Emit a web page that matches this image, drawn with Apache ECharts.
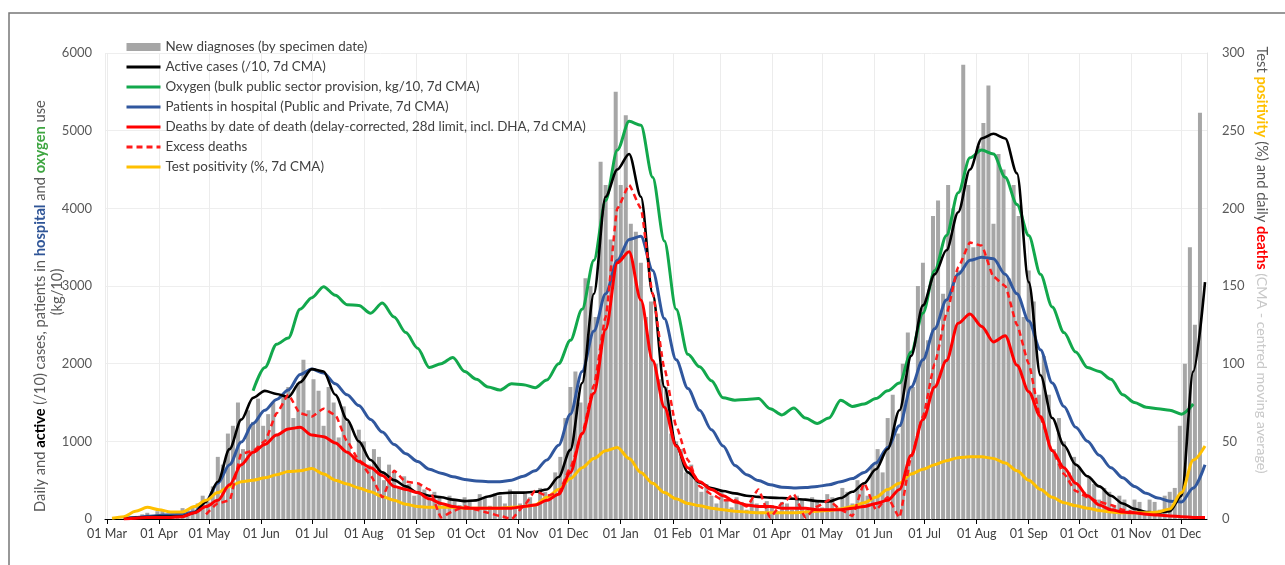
<!DOCTYPE html>
<html>
<head>
<meta charset="utf-8">
<script src="https://cdn.jsdelivr.net/npm/echarts@6/dist/echarts.min.js"></script>
<style>
  html, body { margin: 0; padding: 0; background: #fff; }
  #chart { width: 1285px; height: 565px; }
</style>
</head>
<body>
<div id="chart"></div>
<script>
// daily new diagnoses, read every 3rd day from 01 Mar 2020
const barStart = '2020-03-01';
const barStep = 3;
const newDiagnoses = [
  0, 0, 2, 5, 10, 20, 40, 60, 80, 50,
  100, 120, 60, 100, 90, 140, 120, 160, 200, 300,
  220, 420, 800, 700, 1100, 1200, 1500, 900, 1400, 1250,
  1550, 1200, 1350, 1500, 1100, 1600, 1700, 1300, 1750, 2050,
  1400, 1800, 1650, 1200, 1700, 1500, 1050, 1450, 1250, 800,
  1150, 1000, 700, 900, 800, 500, 700, 600, 400, 550,
  450, 300, 450, 380, 250, 350, 300, 200, 300, 250,
  180, 280, 250, 150, 320, 280, 170, 330, 300, 200,
  380, 320, 200, 350, 280, 180, 400, 350, 250, 600,
  800, 1300, 1700, 1900, 1500, 3100, 3000, 2600, 4600, 4300,
  3600, 5500, 4300, 5200, 3800, 3700, 3300, 2600, 2800, 2000,
  1800, 1700, 1100, 1000, 900, 600, 700, 500, 350, 450,
  300, 200, 350, 250, 150, 280, 220, 120, 250, 200,
  100, 230, 180, 100, 220, 200, 120, 300, 250, 120,
  280, 220, 150, 320, 280, 150, 400, 350, 200, 500,
  450, 300, 700, 900, 600, 1300, 1600, 1100, 2000, 2400,
  1700, 3000, 3300, 2300, 3900, 4100, 2900, 4300, 4000, 3200,
  5850, 4300, 3500, 4800, 5100, 5580, 3800, 4700, 4500, 3100,
  4300, 3900, 2600, 3200, 2800, 1600, 2100, 1600, 900, 1300,
  1000, 600, 800, 650, 350, 550, 450, 250, 400, 350,
  180, 300, 250, 120, 250, 220, 100, 250, 220, 120,
  300, 350, 400, 1200, 2000, 3500, 2500, 5230
];

// 7d CMA lines, read weekly from 04 Mar 2020 (null = no data yet / any more)
const lineStart = '2020-03-04';
const lineStep = 7;
const activeCases = [
  null, 5, 15, 25, 30, 30, 35, 80, 220, 480,
  900, 1280, 1560, 1650, 1610, 1570, 1760, 1930, 1900, 1600,
  1280, 1000, 760, 600, 500, 420, 340, 300, 280, 250,
  230, 240, 290, 330, 340, 340, 350, 380, 540, 890,
  1750, 2900, 4150, 4500, 4700, 4150, 2900, 1700, 950, 600,
  470, 400, 360, 330, 300, 285, 275, 270, 260, 250,
  230, 225, 270, 350, 460, 640, 900, 1400, 2100, 2750,
  3150, 3460, 3950, 4500, 4900, 4960, 4900, 4450, 3050, 1850,
  1300, 950, 700, 550, 420, 300, 200, 130, 90, 80,
  100, 300, 1900, 3050
];
const oxygen = [
  null, null, null, null, null, null, null, null, null, null,
  null, null, 1650, 1950, 2250, 2330, 2700, 2850, 2990, 2880,
  2760, 2750, 2650, 2780, 2600, 2400, 2200, 1950, 2000, 2080,
  1900, 1800, 1700, 1660, 1740, 1730, 1690, 1790, 2000, 2300,
  2700, 3330, 4100, 4750, 5120, 5070, 4400, 3580, 2700, 2120,
  1960, 1780, 1560, 1530, 1540, 1550, 1420, 1340, 1430, 1300,
  1230, 1300, 1530, 1450, 1480, 1550, 1650, 1750, 2150, 2650,
  3200, 3650, 4200, 4650, 4750, 4700, 4400, 4050, 3650, 3150,
  2730, 2400, 2150, 1950, 1900, 1800, 1600, 1500, 1440, 1420,
  1400, 1350, 1480, null
];
const hospital = [
  null, 10, 20, 35, 45, 55, 60, 90, 230, 460,
  700, 990, 1230, 1400, 1540, 1660, 1860, 1930, 1880, 1740,
  1600, 1460, 1280, 1120, 960, 840, 740, 640, 590, 545,
  510, 490, 480, 480, 500, 550, 620, 760, 950, 1350,
  1900, 2420, 2900, 3330, 3600, 3640, 3200, 2580, 2050, 1680,
  1400, 1150, 940, 690, 570, 495, 440, 410, 400, 405,
  420, 440, 480, 520, 600, 720, 920, 1200, 1700, 2050,
  2450, 2820, 3150, 3330, 3370, 3350, 3150, 2900, 2550, 2180,
  1750, 1450, 1180, 1000, 820, 660, 530, 420, 330, 270,
  230, 220, 400, 700
];
const deaths = [
  null, 0, 0.5, 1, 1, 1, 1.5, 4, 8, 12,
  22, 35, 43, 48, 54, 58, 59, 54, 53, 49,
  43, 37, 33, 28, 21, 19, 17, 13, 10, 8,
  7, 7, 7, 7, 7, 8, 9, 12, 16, 30,
  55, 81, 122, 165, 172, 141, 102, 72, 47, 33,
  24, 19, 15, 11, 9, 8, 8, 7, 7, 7,
  6, 6, 6, 7, 8, 10, 12, 19, 41, 64,
  85, 102, 126, 132, 124, 114, 118, 99, 82, 66,
  44, 33, 23, 15, 9, 6, 4.5, 4, 3, 2.5,
  2, 1.5, 1, 1
];
const excessDeaths = [
  null, null, null, null, null, null, null, null, 3, 10,
  12, 42, 44, 50, 68, 80, 68, 66, 71, 67,
  50, 38, 28, 14, 31, 24, 23, 19, 1, 5,
  8, 6, 4, 2, 0, 8, 18, 15, 17, 33,
  55, 86, 130, 200, 215, 200, 145, 97, 60, 38,
  21, 16, 12, 12, 8, 19, 1, 10, 16, 1,
  8, 12, 6, 2, 23, 6, 14, 1, 40, 66,
  100, 132, 162, 178, 176, 156, 150, 125, 100, 65,
  44, 29, 18, 14, 11, 9, 6, 4, null, null,
  null, null, null, null
];
const positivity = [
  0.5, 1.5, 5, 7.5, 6, 4.5, 4.5, 8, 12, 17,
  21, 24, 25, 26.5, 28.5, 30.5, 31, 32.5, 29, 25,
  22.5, 20, 17.5, 14.5, 12, 9.5, 8, 7.5, 7.5, 7.5,
  7, 7, 7, 7, 7.5, 8, 9, 14, 19, 26,
  33, 39, 44, 46, 39, 30, 23, 17, 13, 10,
  8.5, 7, 6, 5, 4.5, 4, 4, 4, 4, 4.5,
  5, 5.5, 6.5, 8, 10.5, 14, 19, 23, 29, 32,
  35, 37.5, 39.5, 40, 40, 39, 36, 31, 25, 19,
  14, 10.5, 8.5, 7, 5.5, 4.5, 4, 4, 4, 4.5,
  6.5, 17, 38, 47
];

const axisEndDay = 654;
const FONT = 'Lato, "Open Sans", sans-serif';
const TITLE_SIZE = 14.7;

function dayTime(start, n) {
  const d = new Date(start + 'T00:00:00');
  d.setDate(d.getDate() + n);
  return d.getTime();
}
function toPoints(start, step, values) {
  const pts = [];
  values.forEach((v, i) => {
    if (v !== null) pts.push([dayTime(start, i * step), v]);
  });
  return pts;
}
function lineSerie(name, values, color, width, yIndex, extra) {
  return Object.assign({
    name: name,
    type: 'line',
    yAxisIndex: yIndex,
    data: toPoints(lineStart, lineStep, values),
    showSymbol: false,
    symbol: 'none',
    smooth: 0.3,
    smoothMonotone: 'x',
    lineStyle: { color: color, width: width },
    itemStyle: { color: color },
    emphasis: { disabled: true }
  }, extra || {});
}

let chart = echarts.init(document.getElementById('chart'));
let option = {
  animation: false,
  textStyle: { fontFamily: FONT },
  grid: { left: 105, right: 78, top: 53, bottom: 46 },
  legend: {
    orient: 'vertical',
    left: 125,
    top: 39,
    padding: 0,
    itemWidth: 34,
    itemHeight: 8,
    itemGap: 4,
    // line series draw a dot in their legend icon, hide it
    itemStyle: { opacity: 0 },
    lineStyle: { width: 3 },
    textStyle: { fontFamily: FONT, fontSize: 13.4, lineHeight: 16, color: '#404040' },
    data: [
      { name: 'New diagnoses (by specimen date)', icon: 'rect', itemStyle: { opacity: 1, color: '#a6a6a6' } },
      'Active cases (/10, 7d CMA)',
      'Oxygen (bulk public sector provision, kg/10, 7d CMA)',
      'Patients in hospital (Public and Private, 7d CMA)',
      'Deaths by date of death (delay-corrected, 28d limit, incl. DHA, 7d CMA)',
      'Excess deaths',
      'Test positivity (%, 7d CMA)'
    ]
  },
  xAxis: {
    type: 'time',
    min: dayTime(barStart, 0),
    max: dayTime(barStart, axisEndDay),
    splitNumber: 22,
    minInterval: 28 * 864e5,
    maxInterval: 31 * 864e5,
    axisLine: { lineStyle: { color: '#000', width: 1 } },
    axisTick: { show: true, length: 5, lineStyle: { color: '#000' } },
    axisLabel: {
      formatter: '{dd} {MMM}',
      color: '#404040',
      fontSize: 12.5,
      fontFamily: FONT,
      margin: 8,
      hideOverlap: false
    },
    splitLine: { show: true, lineStyle: { color: '#ececec', width: 1 } }
  },
  yAxis: [
    {
      type: 'value',
      min: 0,
      max: 6000,
      interval: 1000,
      axisLine: { show: false },
      axisTick: { show: false },
      axisLabel: { color: '#595959', fontSize: 13, fontFamily: FONT, margin: 13, formatter: v => String(v) },
      splitLine: { show: true, lineStyle: { color: '#eeeeee', width: 1 } }
    },
    {
      type: 'value',
      position: 'right',
      min: 0,
      max: 300,
      interval: 50,
      axisLine: { show: true, lineStyle: { color: '#e4e4e4' } },
      axisTick: { show: false },
      axisLabel: { color: '#595959', fontSize: 13, fontFamily: FONT, margin: 15, formatter: v => String(v) },
      splitLine: { show: false }
    }
  ],
  series: [
    {
      name: 'New diagnoses (by specimen date)',
      type: 'bar',
      yAxisIndex: 0,
      barWidth: 4,
      data: toPoints(barStart, barStep, newDiagnoses),
      itemStyle: { color: '#a6a6a6' },
      emphasis: { disabled: true }
    },
    lineSerie('Oxygen (bulk public sector provision, kg/10, 7d CMA)', oxygen, '#12a84c', 3, 0),
    lineSerie('Patients in hospital (Public and Private, 7d CMA)', hospital, '#30579e', 3, 0),
    lineSerie('Active cases (/10, 7d CMA)', activeCases, '#000000', 2.6, 0),
    lineSerie('Test positivity (%, 7d CMA)', positivity, '#ffc000', 3, 1),
    lineSerie('Excess deaths', excessDeaths, '#ff1a1a', 2.5, 1, {
      smooth: 0.15,
      lineStyle: { color: '#ff1a1a', width: 2.5, type: [6, 4] }
    }),
    lineSerie('Deaths by date of death (delay-corrected, 28d limit, incl. DHA, 7d CMA)', deaths, '#ff0000', 3, 1)
  ],
  graphic: [
    {
      type: 'rect',
      silent: true,
      shape: { x: 9, y: 13, width: 1320, height: 620 },
      style: { fill: 'none', stroke: '#777777', lineWidth: 1.5 }
    },
    {
      type: 'text',
      x: 40,
      y: 306,
      rotation: Math.PI / 2,
      silent: true,
      style: {
        text: '{g|Daily and }{k|active}{g| (/10) cases, patients in }{b|hospital}{g| and }{o|oxygen}{g| use}',
        align: 'center',
        verticalAlign: 'middle',
        rich: {
          g: { fill: '#595959', fontSize: TITLE_SIZE, fontFamily: FONT },
          k: { fill: '#000000', fontSize: TITLE_SIZE, fontWeight: 'bold', fontFamily: FONT },
          b: { fill: '#2f5597', fontSize: TITLE_SIZE, fontWeight: 'bold', fontFamily: FONT },
          o: { fill: '#3fa642', fontSize: TITLE_SIZE, fontWeight: 'bold', fontFamily: FONT }
        }
      }
    },
    {
      type: 'text',
      x: 57,
      y: 292,
      rotation: Math.PI / 2,
      silent: true,
      style: {
        text: '(kg/10)',
        align: 'center',
        verticalAlign: 'middle',
        fill: '#595959',
        fontSize: TITLE_SIZE,
        fontFamily: FONT
      }
    },
    {
      type: 'text',
      x: 1262,
      y: 260,
      rotation: -Math.PI / 2,
      silent: true,
      style: {
        text: '{g|Test }{y|positivity}{g| (%) and daily }{r|deaths}{l| (CMA - centred moving average)}',
        align: 'center',
        verticalAlign: 'middle',
        rich: {
          g: { fill: '#595959', fontSize: TITLE_SIZE, fontFamily: FONT },
          y: { fill: '#ffc000', fontSize: TITLE_SIZE, fontWeight: 'bold', fontFamily: FONT },
          r: { fill: '#ff0000', fontSize: TITLE_SIZE, fontWeight: 'bold', fontFamily: FONT },
          l: { fill: '#c8c8c8', fontSize: TITLE_SIZE - 0.5, fontFamily: FONT }
        }
      }
    }
  ]
};
chart.setOption(option);
</script>
</body>
</html>
